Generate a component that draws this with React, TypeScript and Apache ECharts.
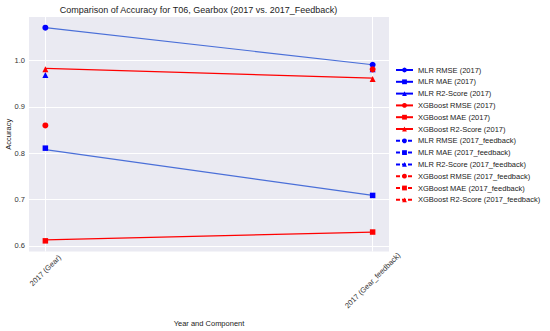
import React, { useEffect, useRef } from "react";
import * as echarts from "echarts";

const categories = ["2017 (Gear)", "2017 (Gear_feedback)"];
const metricNames = ["MLR RMSE", "MLR MAE", "MLR R2-Score", "XGBoost RMSE", "XGBoost MAE", "XGBoost R2-Score"];
const values2017 = [1.071, 0.811, 0.969, 0.86, 0.611, 0.981];
const valuesFeedback = [0.991, 0.709, 0.981, 0.981, 0.63, 0.96];
// connecting lines (no legend entry): [start, end]
const lineMlrRmse = [1.071, 0.991];
const lineMlrMae = [0.808, 0.709];
const lineXgbR2 = [0.983, 0.962];
const lineXgbMae = [0.613, 0.63];
const yTicks = [0.6, 0.7, 0.8, 0.9, 1.0];
const titleText = "Comparison of Accuracy for T06, Gearbox (2017 vs. 2017_Feedback)";
const xAxisTitle = "Year and Component";
const yAxisTitle = "Accuracy";

const FONT = "Liberation Sans, Arial, sans-serif";
const colors = ["#0000ff", "#0000ff", "#0000ff", "#ff0000", "#ff0000", "#ff0000"];
const symbols = ["circle", "rect", "triangle", "circle", "rect", "triangle"];

export default function App() {
  const ref = useRef<HTMLDivElement>(null);
  useEffect(() => {
    if (!ref.current) return;
    const chart = echarts.init(ref.current, undefined, { renderer: "svg" });

    const legendSeries: any[] = [];
    const markerSeries: any[] = [];
    const legendData: string[] = [];
    const addGroup = (suffix: string, vals: number[], xIdx: number, dash: any) => {
      metricNames.forEach((m, i) => {
        const name = `${m} (${suffix})`;
        legendData.push(name);
        legendSeries.push({
          name,
          type: "line",
          data: [],
          symbol: symbols[i],
          symbolSize: 6,
          itemStyle: { color: colors[i] },
          lineStyle: { color: colors[i], width: 1.2, type: dash },
        });
        markerSeries.push({
          name,
          type: "scatter",
          data: [[xIdx, vals[i]]],
          symbol: symbols[i],
          symbolSize: symbols[i] === "rect" ? 5.5 : 6,
          itemStyle: { color: colors[i], opacity: 1 },
          z: 4,
        });
      });
    };
    addGroup("2017", values2017, 0, "solid");
    addGroup("2017_feedback", valuesFeedback, 1, [4, 2]);

    const mkLine = (vals: number[], color: string) => ({
      type: "line",
      data: vals.map((v, k) => [k, v]),
      showSymbol: false,
      symbol: "none",
      lineStyle: { color, width: 1.2 },
      z: 3,
      silent: true,
    });

    const gridSeries = {
      type: "line",
      data: [],
      z: 1,
      silent: true,
      markLine: {
        z: 1,
        silent: true,
        symbol: ["none", "none"],
        label: { show: false },
        lineStyle: { color: "#ffffff", width: 1, type: "solid" },
        data: [
          ...yTicks.map((v) => ({ yAxis: v })),
          ...categories.map((_, k) => ({ xAxis: k })),
        ],
      },
    };

    chart.setOption({
      animation: false,
      textStyle: { fontFamily: FONT },
      grid: {
        left: 29,
        right: 161,
        top: 17,
        bottom: 79.5,
        show: true,
        backgroundColor: "#eaeaf2",
        borderWidth: 0,
        outerBoundsMode: "none",
        containLabel: false,
      },
      xAxis: {
        type: "value",
        min: -0.05,
        max: 1.05,
        axisLine: { show: false },
        axisTick: { show: false },
        splitLine: { show: false },
        axisLabel: { show: false },
        name: xAxisTitle,
        nameLocation: "middle",
        nameGap: 68,
        nameTextStyle: { fontSize: 7.5, color: "#222", fontFamily: FONT },
      },
      yAxis: {
        type: "value",
        min: 0.588,
        max: 1.094,
        axisLine: { show: false },
        axisTick: { show: false },
        splitLine: { show: false },
        axisLabel: {
          customValues: yTicks,
          formatter: (v: number) => v.toFixed(1),
          fontSize: 7.5,
          color: "#333",
          margin: 4,
          fontFamily: FONT,
        },
      },
      legend: {
        orient: "vertical",
        left: 395,
        top: 66,
        padding: 0,
        itemWidth: 17,
        itemHeight: 6,
        itemGap: 3.8,
        data: legendData,
        textStyle: { fontSize: 7.5, color: "#222", fontFamily: FONT },
      },
      series: [
        gridSeries,
        mkLine(lineMlrRmse, "#4a6fd8"),
        mkLine(lineMlrMae, "#4a6fd8"),
        mkLine(lineXgbR2, "#ff0000"),
        mkLine(lineXgbMae, "#ff0000"),
        ...legendSeries,
        ...markerSeries,
      ],
    });

    const baseY = chart.convertToPixel({ yAxisIndex: 0 }, 0.588) as number;
    const topY = chart.convertToPixel({ yAxisIndex: 0 }, 1.094) as number;
    const offsets = [19, 29];
    const labelGraphics = categories.map((c, k) => {
      const px = chart.convertToPixel({ xAxisIndex: 0 }, k) as number;
      return {
        type: "text",
        x: px,
        y: baseY + offsets[k],
        rotation: Math.PI / 4,
        style: {
          text: c,
          fontSize: 7.5,
          fill: "#333",
          fontFamily: FONT,
          align: "center",
          verticalAlign: "middle",
        },
      };
    });
    chart.setOption({
      graphic: [
        {
          type: "text",
          x: 198.5,
          y: 10,
          style: {
            text: titleText,
            fontSize: 9,
            fill: "#222",
            fontFamily: FONT,
            align: "center",
            verticalAlign: "middle",
          },
        },
        {
          type: "text",
          x: 8,
          y: (baseY + topY) / 2,
          rotation: Math.PI / 2,
          style: {
            text: yAxisTitle,
            fontSize: 7.5,
            fill: "#222",
            fontFamily: FONT,
            align: "center",
            verticalAlign: "middle",
          },
        },
        ...labelGraphics,
      ],
    });

    return () => chart.dispose();
  }, []);
  return (
    <div
      ref={ref}
      style={{ position: "absolute", left: 0, top: 0, width: 550, height: 331 }}
    />
  );
}
